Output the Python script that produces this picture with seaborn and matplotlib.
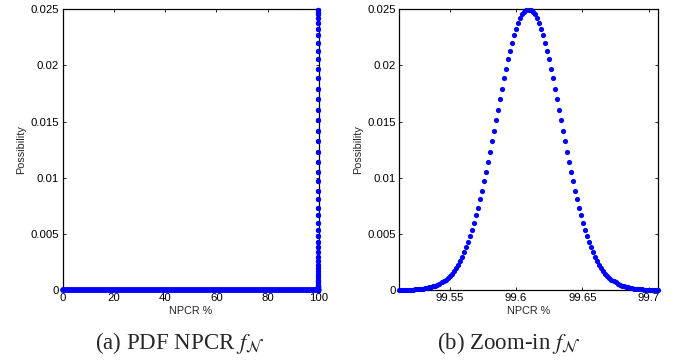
import matplotlib
matplotlib.use("Agg")
import matplotlib.pyplot as plt
import matplotlib.ticker as mticker
import seaborn as sns
import pandas as pd

# ---- data ----
npcr_zoom = [
    99.5117, 99.5132, 99.5148, 99.5163, 99.5178, 99.5193, 99.5209, 99.5224, 99.5239, 99.5255,
    99.5270, 99.5285, 99.5300, 99.5316, 99.5331, 99.5346, 99.5361, 99.5377, 99.5392, 99.5407,
    99.5422, 99.5438, 99.5453, 99.5468, 99.5483, 99.5499, 99.5514, 99.5529, 99.5544, 99.5560,
    99.5575, 99.5590, 99.5605, 99.5621, 99.5636, 99.5651, 99.5667, 99.5682, 99.5697, 99.5712,
    99.5728, 99.5743, 99.5758, 99.5773, 99.5789, 99.5804, 99.5819, 99.5834, 99.5850, 99.5865,
    99.5880, 99.5895, 99.5911, 99.5926, 99.5941, 99.5956, 99.5972, 99.5987, 99.6002, 99.6017,
    99.6033, 99.6048, 99.6063, 99.6078, 99.6094, 99.6109, 99.6124, 99.6140, 99.6155, 99.6170,
    99.6185, 99.6201, 99.6216, 99.6231, 99.6246, 99.6262, 99.6277, 99.6292, 99.6307, 99.6323,
    99.6338, 99.6353, 99.6368, 99.6384, 99.6399, 99.6414, 99.6429, 99.6445, 99.6460, 99.6475,
    99.6490, 99.6506, 99.6521, 99.6536, 99.6552, 99.6567, 99.6582, 99.6597, 99.6613, 99.6628,
    99.6643, 99.6658, 99.6674, 99.6689, 99.6704, 99.6719, 99.6735, 99.6750, 99.6765, 99.6780,
    99.6796, 99.6811, 99.6826, 99.6841, 99.6857, 99.6872, 99.6887, 99.6902, 99.6918, 99.6933,
    99.6948, 99.6964, 99.6979, 99.6994, 99.7009, 99.7025, 99.7040, 99.7055, 99.7070,
]
prob_zoom = [
    0.00001, 0.00001, 0.00001, 0.00002, 0.00002, 0.00003, 0.00003, 0.00004, 0.00005, 0.00007,
    0.00008, 0.00010, 0.00012, 0.00015, 0.00019, 0.00023, 0.00027, 0.00033, 0.00039, 0.00047,
    0.00056, 0.00067, 0.00079, 0.00093, 0.00108, 0.00127, 0.00147, 0.00171, 0.00197, 0.00226,
    0.00259, 0.00295, 0.00335, 0.00380, 0.00428, 0.00480, 0.00537, 0.00598, 0.00664, 0.00734,
    0.00808, 0.00885, 0.00967, 0.01052, 0.01140, 0.01231, 0.01324, 0.01418, 0.01512, 0.01607,
    0.01701, 0.01794, 0.01884, 0.01971, 0.02054, 0.02131, 0.02204, 0.02269, 0.02328, 0.02379,
    0.02421, 0.02455, 0.02479, 0.02493, 0.02498, 0.02493, 0.02479, 0.02455, 0.02421, 0.02379,
    0.02328, 0.02269, 0.02204, 0.02131, 0.02054, 0.01971, 0.01884, 0.01794, 0.01701, 0.01607,
    0.01512, 0.01418, 0.01324, 0.01231, 0.01140, 0.01052, 0.00967, 0.00885, 0.00808, 0.00734,
    0.00664, 0.00598, 0.00537, 0.00480, 0.00428, 0.00380, 0.00335, 0.00295, 0.00259, 0.00226,
    0.00197, 0.00171, 0.00147, 0.00127, 0.00108, 0.00093, 0.00079, 0.00067, 0.00056, 0.00047,
    0.00039, 0.00033, 0.00027, 0.00023, 0.00019, 0.00015, 0.00012, 0.00010, 0.00008, 0.00007,
    0.00005, 0.00004, 0.00003, 0.00003, 0.00002, 0.00002, 0.00001, 0.00001, 0.00001,
]
# zero-probability stretch of the full range (left panel)
tail_npcr = [0.0, 99.5117]
tail_prob = [0.0, 0.0]

x_ticks_full = [0, 20, 40, 60, 80, 100]
x_ticks_zoom = [99.55, 99.6, 99.65, 99.7]
y_ticks = [0, 0.005, 0.01, 0.015, 0.02, 0.025]
x_label = "NPCR %"
y_label = "Possibility"
captions = [r"(a) PDF NPCR $f_{\mathcal{N}}$", r"(b) Zoom-in $f_{\mathcal{N}}$"]

# ---- styling ----
sns.set_theme(style="ticks")
plt.rcParams["font.family"] = ["Liberation Sans", "DejaVu Sans"]
plt.rcParams["mathtext.fontset"] = "stix"

BLUE = "#0000ff"
df_zoom = pd.DataFrame({"npcr": npcr_zoom, "prob": prob_zoom})
df_tail = pd.DataFrame({"npcr": tail_npcr, "prob": tail_prob})

fig = plt.figure(figsize=(6.75, 3.6), dpi=100)
ax1 = fig.add_axes([0.0929, 0.1944, 0.3797, 0.7797])
ax2 = fig.add_axes([0.5911, 0.1944, 0.3837, 0.7797])

# left: full range
sns.lineplot(data=df_tail, x="npcr", y="prob", ax=ax1, color=BLUE,
             linewidth=4.2, clip_on=False, solid_capstyle="round", zorder=4)
sns.scatterplot(data=df_zoom, x="npcr", y="prob", ax=ax1, color=BLUE,
                s=14, linewidth=0, marker="o", clip_on=False, zorder=5)
ax1.set_xlim(0, 100)
ax1.set_xticks(x_ticks_full)

# right: zoom-in
sns.scatterplot(data=df_zoom, x="npcr", y="prob", ax=ax2, color=BLUE,
                s=14, linewidth=0, marker="o", clip_on=False, zorder=5)
ax2.set_xlim(min(npcr_zoom), max(npcr_zoom))
ax2.set_xticks(x_ticks_zoom)

for ax in (ax1, ax2):
    ax.set_ylim(0, 0.025)
    ax.set_yticks(y_ticks)
    ax.xaxis.set_major_formatter(mticker.FormatStrFormatter("%g"))
    ax.yaxis.set_major_formatter(mticker.FormatStrFormatter("%g"))
    ax.tick_params(direction="in", length=2.5, width=0.6, labelsize=8.2,
                   top=True, right=True, pad=2.5, colors="black")
    for sp in ax.spines.values():
        sp.set_visible(True)
        sp.set_color("black")
        sp.set_linewidth(0.9)
    ax.set_xlabel(x_label, fontsize=7.8, labelpad=2)
    ax.set_ylabel(y_label, fontsize=7.8, labelpad=3)
    ax.set_facecolor("white")

fig.text(0.266, 0.047, captions[0], ha="center", va="center", fontsize=16.5,
         family=["Liberation Serif", "DejaVu Serif"])
fig.text(0.754, 0.047, captions[1], ha="center", va="center", fontsize=16.5,
         family=["Liberation Serif", "DejaVu Serif"])

fig.savefig("out.png", dpi=100, facecolor="white")
